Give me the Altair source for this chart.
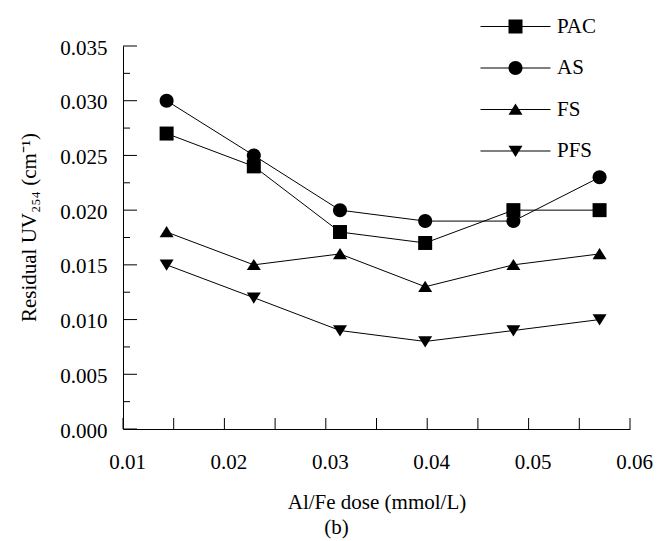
import altair as alt
import pandas as pd

# ---- data ----
dose = [0.0143, 0.0229, 0.0314, 0.0398, 0.0485, 0.0570]
pac = [0.027, 0.024, 0.018, 0.017, 0.020, 0.020]
as_vals = [0.030, 0.025, 0.020, 0.019, 0.019, 0.023]
fs = [0.018, 0.015, 0.016, 0.013, 0.015, 0.016]
pfs = [0.015, 0.012, 0.009, 0.008, 0.009, 0.010]
series = ["PAC", "AS", "FS", "PFS"]

x_labels = [0.01, 0.02, 0.03, 0.04, 0.05, 0.06]
x_ticks = [0.01, 0.015, 0.02, 0.025, 0.03, 0.035, 0.04, 0.045, 0.05, 0.055, 0.06]
y_labels = [0.0, 0.005, 0.01, 0.015, 0.02, 0.025, 0.03, 0.035]
y_minor = [0.0025, 0.0075, 0.0125, 0.0175, 0.0225, 0.0275, 0.0325]

df = pd.DataFrame({
    "dose": dose * 4,
    "value": pac + as_vals + fs + pfs,
    "series": [s for s in series for _ in dose],
})

FONT = "Liberation Serif"
W, H = 507, 383

# marker shapes (unit paths, scaled by sqrt(size)/2), all drawn clockwise
sq = "M-1,-1H1V1H-1Z"
ci = "M-1,0A1,1,0,1,1,1,0A1,1,0,1,1,-1,0Z"
tu = "M0,-0.85L1,0.75L-1,0.75Z"
td = "M0,0.85L-1,-0.75L1,-0.75Z"
marker_paths = [sq, ci, tu, td]
# legend symbol: thin filled bar (the line) plus the marker
bar = "M-5,-0.075H5V0.075H-5Z"
legend_paths = [bar + p for p in marker_paths]

xscale = alt.Scale(domain=[0.01, 0.06], nice=False, zero=False)
yscale = alt.Scale(domain=[0, 0.035], nice=False, zero=False)

xaxis = alt.Axis(values=x_labels, format=".2f", ticks=False, grid=False,
                 labelPadding=22, labelFlush=False, labelOffset=4,
                 title="Al/Fe dose (mmol/L)", titlePadding=19)
yaxis = alt.Axis(values=y_labels, format=".3f", ticks=False, grid=False,
                 labelPadding=16, labelFlush=False, labelOffset=2,
                 title="Residual UV₂₅₄ (cm⁻¹)", titlePadding=20, titleY=181)

X = alt.X("dose:Q", scale=xscale, axis=xaxis)
Y = alt.Y("value:Q", scale=yscale, axis=yaxis)

lines = alt.Chart(df).mark_line(color="black", strokeWidth=1).encode(
    x=X, y=Y, detail="series:N")

points = alt.Chart(df).mark_point(filled=True, color="black", opacity=1, size=196).encode(
    x=X, y=Y,
    shape=alt.Shape("series:N", scale=alt.Scale(domain=series, range=marker_paths), legend=None))

legend_layer = alt.Chart(df).transform_filter("false").mark_point(
    filled=True, color="black", opacity=1, size=196
).encode(
    x=X, y=Y,
    shape=alt.Shape("series:N", scale=alt.Scale(domain=series, range=legend_paths),
                    legend=alt.Legend(orient="none", legendX=382, legendY=-30, title=None,
                                      labelFont=FONT, labelFontSize=21, labelColor="black",
                                      symbolSize=196, symbolFillColor="black",
                                      labelOffset=31, rowPadding=19.5, padding=0)))

ymaj = alt.Chart(pd.DataFrame({"v": y_labels})).mark_rule(color="black", strokeWidth=1).encode(
    y=alt.Y("v:Q", scale=yscale, axis=yaxis), x=alt.value(0), x2=alt.value(14))
ymin = alt.Chart(pd.DataFrame({"v": y_minor})).mark_rule(color="black", strokeWidth=1).encode(
    y=alt.Y("v:Q", scale=yscale, axis=yaxis), x=alt.value(0), x2=alt.value(7))
xt = alt.Chart(pd.DataFrame({"v": x_ticks})).mark_rule(color="black", strokeWidth=1).encode(
    x=alt.X("v:Q", scale=xscale, axis=xaxis), y=alt.value(H), y2=alt.value(H - 11))

chart = alt.layer(lines, points, legend_layer, ymaj, ymin, xt).resolve_scale(
    shape="independent"
).properties(
    width=W, height=H,
    background="white",
    autosize=alt.AutoSizeParams(type="none"),
    padding={"left": 123, "top": 46, "right": 27, "bottom": 112},
    title=alt.Title("(b)", orient="bottom", anchor="middle", dx=-40, offset=5,
                    font=FONT, fontSize=21, fontWeight="normal", color="black"),
).configure_axis(
    domainColor="black", domainWidth=1,
    labelFont=FONT, labelFontSize=21, labelColor="black",
    titleFont=FONT, titleFontSize=21, titleFontWeight="normal", titleColor="black",
).configure_view(stroke=None)

chart.save("out.html", embed_options={"renderer": "svg", "actions": False})
